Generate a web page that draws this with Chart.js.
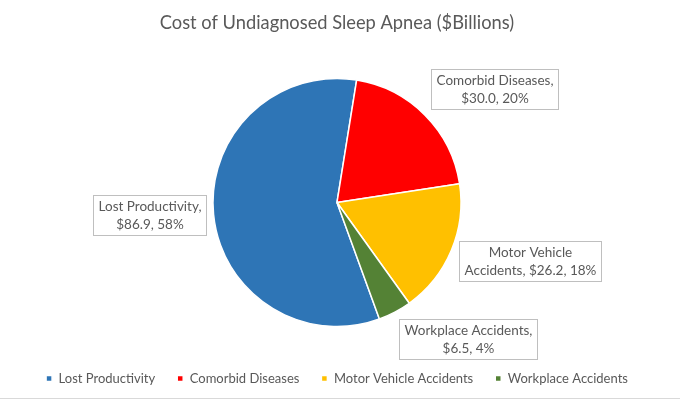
<!DOCTYPE html>
<html>
<head>
<meta charset="utf-8">
<script src="https://cdn.jsdelivr.net/npm/chart.js@4.4.1/dist/chart.umd.min.js"></script>
<style>
html,body{margin:0;padding:0;background:#fff;}
#wrap{width:680px;height:402px;position:relative;}
</style>
</head>
<body>
<div id="wrap"><canvas id="c" width="680" height="402"></canvas></div>
<script>
// ---- data ----
const titleText = 'Cost of Undiagnosed Sleep Apnea ($Billions)';
const categories = ['Lost Productivity', 'Comorbid Diseases', 'Motor Vehicle Accidents', 'Workplace Accidents'];
const costs = [86.9, 30.0, 26.2, 6.5];
const sliceColors = ['#2E75B6', '#FF0000', '#FFC000', '#548235'];

const FONT = 'Lato, "Open Sans", sans-serif';
const TEXT = '#595959';

const labelPlugin = {
  id: 'calloutLabels',
  afterDatasetsDraw(chart) {
    const ctx = chart.ctx;
    const meta = chart.getDatasetMeta(0);
    const data = chart.data.datasets[0].data;
    const total = data.reduce((a, b) => a + b, 0);
    ctx.save();
    ctx.font = '13.5px ' + FONT;
    const lh = 18, padX = 5, padY = 2, wrapW = 132;
    const clamp = v => Math.max(-1, Math.min(1, v));
    meta.data.forEach((arc, i) => {
      const p = arc.getProps(['x', 'y', 'startAngle', 'endAngle', 'outerRadius'], true);
      const mid = (p.startAngle + p.endAngle) / 2;
      const ux = Math.cos(mid), uy = Math.sin(mid);
      const r = p.outerRadius + 8;
      const ax = p.x + ux * r, ay = p.y + uy * r;
      const full = chart.data.labels[i] + ', $' + data[i].toFixed(1) + ', ' + Math.round(data[i] / total * 100) + '%';
      const words = full.split(' ');
      const lines = [];
      let cur = '';
      words.forEach(w => {
        const t = cur ? cur + ' ' + w : w;
        if (cur && ctx.measureText(t).width > wrapW) { lines.push(cur); cur = w; } else cur = t;
      });
      lines.push(cur);
      const w = Math.max(...lines.map(l => ctx.measureText(l).width)) + padX * 2;
      const h = lines.length * lh + padY * 2;
      const fx = clamp(ux * 2.5);
      const fy = clamp(uy * Math.abs(uy) * 2.5);
      const cx = ax + fx * w / 2, cy = ay + fy * h / 2;
      const bx = Math.round(cx - w / 2) + 0.5, by = Math.round(cy - h / 2) + 0.5;
      ctx.fillStyle = '#FFFFFF';
      ctx.fillRect(bx, by, Math.round(w), Math.round(h));
      ctx.strokeStyle = '#BFBFBF';
      ctx.lineWidth = 1;
      ctx.strokeRect(bx, by, Math.round(w), Math.round(h));
      ctx.fillStyle = TEXT;
      ctx.textAlign = 'center';
      ctx.textBaseline = 'middle';
      lines.forEach((l, k) => {
        ctx.fillText(l, bx + Math.round(w) / 2, by + padY + lh * k + lh / 2 + 0.5);
      });
    });
    ctx.restore();
  },
  afterDraw(chart) {
    const ctx = chart.ctx;
    ctx.save();
    ctx.strokeStyle = '#D9D9D9';
    ctx.lineWidth = 1;
    ctx.beginPath();
    ctx.moveTo(0, 398.5);
    ctx.lineTo(chart.width, 398.5);
    ctx.stroke();
    ctx.restore();
  }
};

new Chart(document.getElementById('c'), {
  type: 'pie',
  data: {
    labels: categories,
    datasets: [{
      data: costs,
      backgroundColor: sliceColors,
      borderColor: '#FFFFFF',
      borderWidth: 1.5,
      hoverOffset: 0,
      radius: 124
    }]
  },
  options: {
    responsive: false,
    animation: false,
    rotation: 160,
    layout: { padding: { left: 0, right: 6, top: 0, bottom: 7 } },
    plugins: {
      title: {
        display: true,
        text: titleText,
        color: TEXT,
        font: { family: FONT, size: 18.3, weight: 'normal' },
        padding: { top: 12, bottom: 21 }
      },
      legend: {
        position: 'bottom',
        labels: {
          color: TEXT,
          font: { family: FONT, size: 13 },
          boxWidth: 6,
          boxHeight: 6,
          padding: 22
        }
      },
      tooltip: { enabled: false }
    }
  },
  plugins: [labelPlugin]
});
</script>
</body>
</html>
